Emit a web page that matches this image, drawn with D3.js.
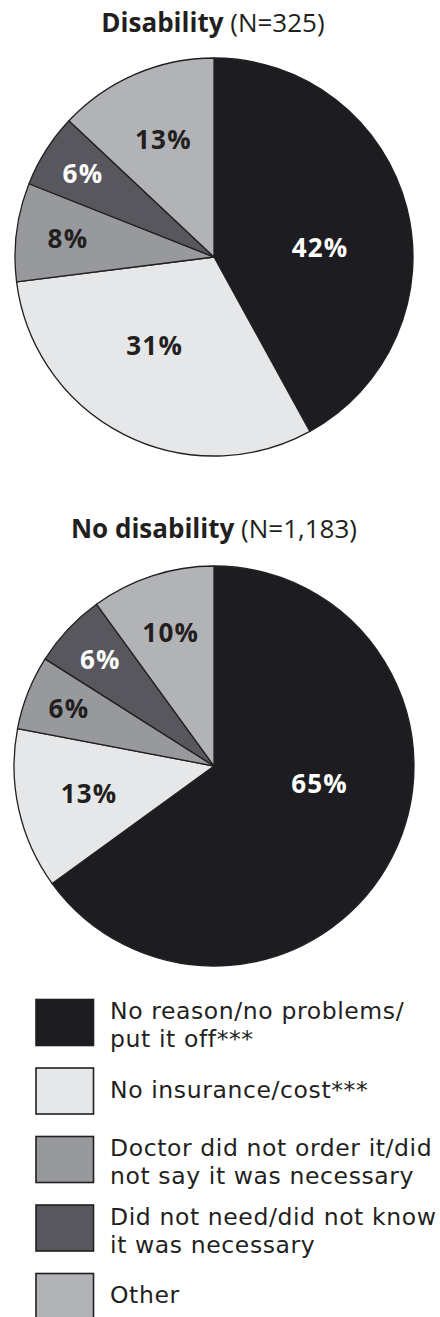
<!DOCTYPE html>
<html>
<head>
<meta charset="utf-8">
<script src="https://cdn.jsdelivr.net/npm/d3@7"></script>
<style>
  html, body { margin: 0; padding: 0; background: #ffffff; }
  svg { display: block; }
  text { font-family: "Open Sans", "Noto Sans", sans-serif; }
  text.legtxt { font-family: "DejaVu Sans", "Liberation Sans", sans-serif; }
</style>
</head>
<body>
<svg id="chart" width="440" height="1317"></svg>
<script>
// ---- data ----
const categories = [
  "No reason/no problems/put it off***",
  "No insurance/cost***",
  "Doctor did not order it/did not say it was necessary",
  "Did not need/did not know it was necessary",
  "Other"
];
const legendLines = [
  ["No reason/no problems/", "put it off***"],
  ["No insurance/cost***"],
  ["Doctor did not order it/did", "not say it was necessary"],
  ["Did not need/did not know", "it was necessary"],
  ["Other"]
];
const groupTitles = ["Disability", "No disability"];
const groupNs = ["(N=325)", "(N=1,183)"];
const disabilityValues = [42, 31, 8, 6, 13];
const noDisabilityValues = [65, 13, 6, 6, 10];

// ---- styles ----
const sliceColors = ["#1d1d21", "#e6e7e9", "#98999d", "#58575d", "#b2b3b7"];
const labelColors = ["#ffffff", "#231f20", "#231f20", "#ffffff", "#231f20"];
const strokeColor = "#231f20";

const svg = d3.select("#chart");

const pieGen = d3.pie().sort(null).value(d => d.value).startAngle(0).endAngle(2 * Math.PI);

const panels = [
  { title: groupTitles[0], n: groupNs[0], values: disabilityValues, cx: 214, cy: 257, r: 199, titleY: 32, titleX: 213 },
  { title: groupTitles[1], n: groupNs[1], values: noDisabilityValues, cx: 214, cy: 766, r: 200, titleY: 538, titleX: 214 }
];

panels.forEach(p => {
  const data = categories.map((c, i) => ({ cat: c, idx: i, value: p.values[i] }));
  const arcs = pieGen(data);
  const arc = d3.arc().innerRadius(0).outerRadius(p.r);

  const t = svg.append("text")
    .attr("x", p.titleX).attr("y", p.titleY)
    .attr("text-anchor", "middle")
    .attr("font-size", 26)
    .attr("fill", "#231f20");
  t.append("tspan").attr("font-weight", 700).text(p.title + " ");
  t.append("tspan").attr("font-weight", 400).text(p.n);

  const g = svg.append("g").attr("transform", `translate(${p.cx},${p.cy})`);
  g.selectAll("path.slice").data(arcs).enter().append("path")
    .attr("class", "slice")
    .attr("d", arc)
    .attr("fill", d => sliceColors[d.data.idx])
    .attr("stroke", strokeColor)
    .attr("stroke-width", 1.3)
    .attr("stroke-linejoin", "round");

  const labelPos = d => {
    const pct = d.data.value;
    const k = pct >= 30 ? 0.535 : 0.9 - 0.02 * pct;
    let a = (d.startAngle + d.endAngle) / 2;
    if (d.startAngle < Math.PI / 2 && d.endAngle > Math.PI / 2) a = Math.PI / 2 + (a - Math.PI / 2) * 0.35;
    else if (pct >= 30) a += 0.12;
    return [Math.sin(a) * p.r * k, -Math.cos(a) * p.r * k];
  };

  g.selectAll("text.lbl").data(arcs).enter().append("text")
    .attr("class", "lbl")
    .attr("x", d => labelPos(d)[0])
    .attr("y", d => labelPos(d)[1])
    .attr("dy", "0.36em")
    .attr("text-anchor", "middle")
    .attr("font-size", 26)
    .attr("letter-spacing", 1.2)
    .attr("font-weight", 700)
    .attr("fill", d => labelColors[d.data.idx])
    .text(d => d3.format(".0f")(d.data.value) + "%");
});

// ---- legend ----
const legY = d3.scaleBand().domain(categories).range([999, 999 + 68.5 * categories.length]).paddingInner(0);
const items = svg.append("g").selectAll("g.item").data(categories).enter().append("g")
  .attr("class", "item")
  .attr("transform", d => `translate(0,${legY(d)})`);
items.append("rect")
  .attr("x", 36).attr("y", 0.5)
  .attr("width", 57.5).attr("height", 46)
  .attr("fill", (d, i) => sliceColors[i])
  .attr("stroke", strokeColor)
  .attr("stroke-width", 1.6);
items.each(function(d, i) {
  const lines = legendLines[i];
  const y0 = lines.length === 1 ? 30 : 20;
  const txt = d3.select(this).append("text")
    .attr("class", "legtxt")
    .attr("font-size", 23.5)
    .attr("letter-spacing", 0.6)
    .attr("fill", "#231f20");
  lines.forEach((ln, j) => {
    txt.append("tspan").attr("x", 110).attr("y", y0 + j * 28).text(ln);
  });
});
</script>
</body>
</html>
